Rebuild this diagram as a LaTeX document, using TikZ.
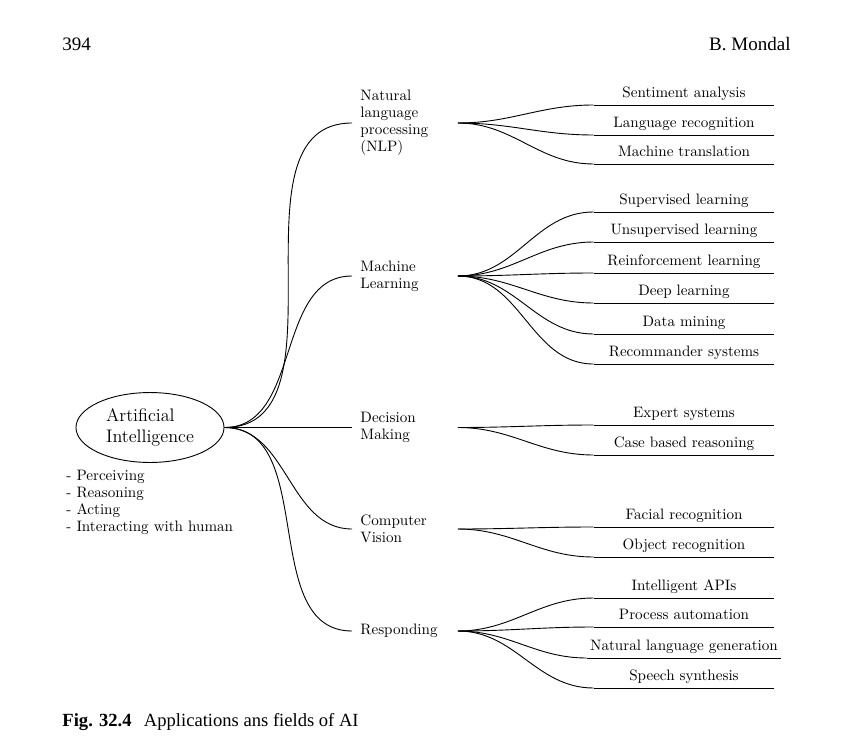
\documentclass[tikz,border=0pt]{standalone}
\usepackage{fontspec}
\newfontfamily\timesfont{Liberation Serif}
\usetikzlibrary{shapes.geometric}
\begin{document}
\begin{tikzpicture}[x=0.662pt,y=-0.662pt,line width=0.6pt,
  txt/.style={font={\fontsize{10}{11.25}\selectfont}},
  cat/.style={txt,anchor=west,align=left,text width=58.9pt,inner xsep=5.3pt,inner ysep=0pt},
  leaf/.style={txt,anchor=south,minimum width=119.2pt,inner xsep=2pt,inner ysep=2.8pt,text height=7pt,text depth=2pt},
  br/.style={out=0,in=180}]
\useasboundingbox (0,0) rectangle (844,740);
% header and caption
\node[font={\timesfont\fontsize{12.6}{14}\selectfont},anchor=base west,inner sep=0pt] (pg) at (62,51) {394};
\node[font={\timesfont\fontsize{12.6}{14}\selectfont},anchor=base east,inner sep=0pt] (au) at (791,51) {B. Mondal};
\node[font={\timesfont\fontsize{12.3}{14}\selectfont},anchor=base west,inner sep=0pt] (cap) at (62,726) {{\bfseries Fig. 32.4}\hspace{8.2pt}Applications ans fields of AI};
% root
\node[draw,ellipse,minimum width=98pt,minimum height=46.3pt,inner sep=0pt,align=left,font={\fontsize{12}{14}\selectfont}] (ai) at (150,427.5) {Artificial\\Intelligence};
\node[txt,anchor=north west,align=left,inner sep=0pt] (list) at (66,469.5) {- Perceiving\\- Reasoning\\- Acting\\- Interacting with human};
% categories
\node[cat] (nlp) at (352,123) {Natural\\language\\processing\\(NLP)};
\node[cat] (ml) at (352,276) {Machine\\Learning};
\node[cat] (dm) at (352,427.5) {Decision\\Making};
\node[cat] (cv) at (352,529) {Computer\\Vision};
\node[cat] (rs) at (352,631) {Responding};
\draw (ai.east) to[br] (nlp.west);
\draw (ai.east) to[br] (ml.west);
\draw (ai.east) -- (dm.west);
\draw (ai.east) to[br] (cv.west);
\draw (ai.east) to[br] (rs.west);
% NLP leaves
\node[leaf] (n1) at (684,105) {Sentiment analysis};
\node[leaf] (n2) at (684,135) {Language recognition};
\node[leaf] (n3) at (684,164) {Machine translation};
% ML leaves
\node[leaf] (m1) at (684,212) {Supervised learning};
\node[leaf] (m2) at (684,242) {Unsupervised learning};
\node[leaf] (m3) at (684,273) {Reinforcement learning};
\node[leaf] (m4) at (684,303) {Deep learning};
\node[leaf] (m5) at (684,334) {Data mining};
\node[leaf] (m6) at (684,364) {Recommander systems};
% DM leaves
\node[leaf] (d1) at (684,425) {Expert systems};
\node[leaf] (d2) at (684,455) {Case based reasoning};
% CV leaves
\node[leaf] (c1) at (684,527) {Facial recognition};
\node[leaf] (c2) at (684,557) {Object recognition};
% Responding leaves
\node[leaf] (r1) at (684,598) {Intelligent APIs};
\node[leaf] (r2) at (684,627) {Process automation};
\node[leaf] (r3) at (684,658) {Natural language generation};
\node[leaf] (r4) at (684,688) {Speech synthesis};
\foreach \p/\l in {nlp/n1,nlp/n2,nlp/n3,ml/m1,ml/m2,ml/m3,ml/m4,ml/m5,ml/m6,dm/d1,dm/d2,cv/c1,cv/c2,rs/r1,rs/r2,rs/r3,rs/r4}{
  \draw (\p.east) to[br] (\l.south west);
  \draw (\l.south west) -- (\l.south east);
}
\end{tikzpicture}
\end{document}
